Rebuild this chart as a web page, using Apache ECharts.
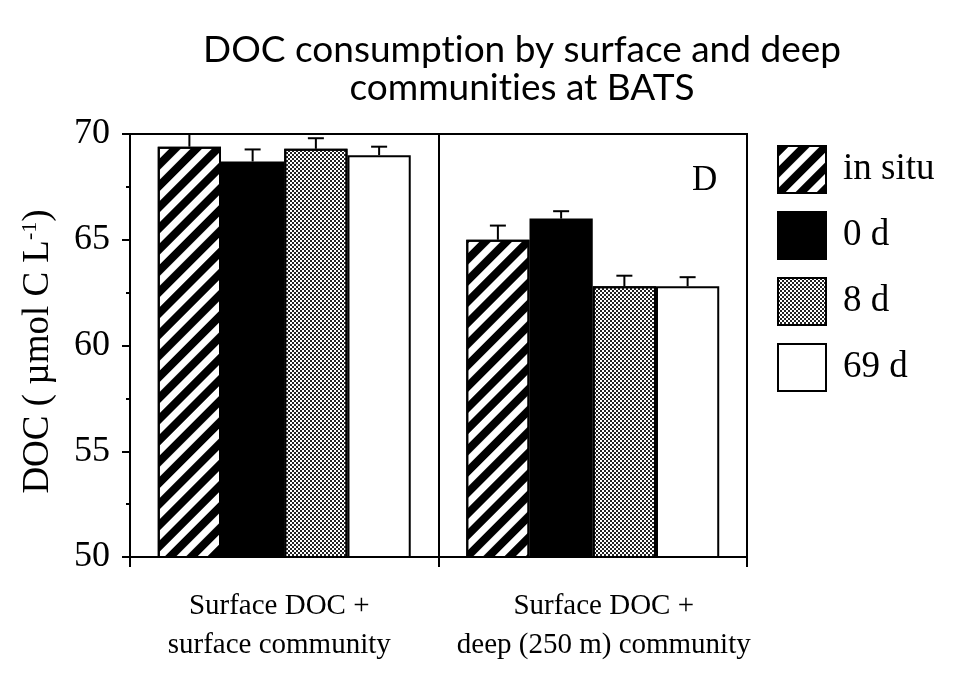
<!DOCTYPE html>
<html><head><meta charset="utf-8">
<script src="https://cdn.jsdelivr.net/npm/echarts@6/dist/echarts.min.js"></script>
<style>html,body{margin:0;padding:0;background:#fff}#c{width:955px;height:683px}</style>
</head><body><div id="c"></div>
<script>
var categories = ['Surface DOC +\nsurface community', 'Surface DOC +\ndeep (250 m) community'];
var seriesNames = ['in situ', '0 d', '8 d', '69 d'];
var inSitu = [69.4, 65.0];
var day0 = [68.7, 66.0];
var day8 = [69.3, 62.8];
var day69 = [69.0, 62.8];
var inSituErr = [0.6, 0.67];
var day0Err = [0.57, 0.35];
var day8Err = [0.5, 0.5];
var day69Err = [0.4, 0.43];
var yTicks = [50, 55, 60, 65, 70];

var values = [inSitu, day0, day8, day69];
var errs = [inSituErr, day0Err, day8Err, day69Err];
var CAT_GAP = 0.18;
var serif = 'Liberation Serif';
var labelPads = [[0, 10, 0, 0], [0, 0, 0, 22]];

var styles = [
  {color: '#fff', borderColor: '#000', borderWidth: 2,
   decal: {symbol: 'rect', symbolSize: 1, dashArrayX: [1, 0], dashArrayY: [8, 7], rotation: -Math.PI / 4, color: '#000'}},
  {color: '#000', borderColor: '#000', borderWidth: 2},
  {color: '#fff', borderColor: '#000', borderWidth: 2,
   decal: {symbol: 'rect', symbolSize: 1, dashArrayX: [[2, 2], [0, 2, 2, 0]], dashArrayY: [2, 0], color: '#222'}},
  {color: '#fff', borderColor: '#000', borderWidth: 2}
];

var series = [];
seriesNames.forEach(function (n, i) {
  series.push({name: n, type: 'bar', data: values[i], barGap: '0%', barCategoryGap: (CAT_GAP * 100) + '%',
    itemStyle: styles[i], emphasis: {disabled: true}, z: 2});
});
var errData = [];
for (var i = 0; i < 4; i++) for (var c = 0; c < categories.length; c++) errData.push([c, i, values[i][c], errs[i][c]]);
series.push({
  type: 'custom', z: 5, silent: true, data: errData, encode: {x: 0, y: 2},
  renderItem: function (params, api) {
    var cat = api.value(0), si = api.value(1), v = api.value(2), e = api.value(3);
    var band = api.size([1, 0])[0];
    var gw = band * (1 - CAT_GAP), bw = gw / 4;
    var p = api.coord([cat, v]);
    var x = p[0] - gw / 2 + bw * (si + 0.5);
    var top = api.coord([cat, v + e])[1];
    return {type: 'group', children: [
      {type: 'line', shape: {x1: x, y1: p[1], x2: x, y2: top}, style: {stroke: '#000', lineWidth: 2}},
      {type: 'line', shape: {x1: x - 8, y1: top, x2: x + 8, y2: top}, style: {stroke: '#000', lineWidth: 2}}
    ]};
  }
});

var catData = categories.map(function (c, i) { return {value: c, textStyle: {padding: labelPads[i]}}; });

var chart = echarts.init(document.getElementById('c'));
chart.setOption({
  animation: false,
  backgroundColor: '#fff',
  title: {text: '{a|DOC consumpt}{a|ion by surface and deep}\n{a|communit}{a|ies at BATS}', left: 517, top: 26, textAlign: 'center',
    textStyle: {fontFamily: 'Lato', fontWeight: 'normal', fontSize: 37, lineHeight: 38, color: '#000',
      rich: {a: {fontFamily: 'Lato', fontSize: 37, lineHeight: 38, color: '#000'}}}},
  grid: {left: 130, right: 208, top: 134, bottom: 126, show: true, borderColor: '#000', borderWidth: 2},
  legend: {orient: 'vertical', left: 777, top: 145, padding: 0, itemWidth: 48, itemHeight: 47, itemGap: 17, icon: 'rect',
    data: seriesNames, selectedMode: false,
    textStyle: {fontFamily: serif, fontSize: 37, color: '#000', padding: [0, 0, 0, 12]}},
  xAxis: {type: 'category', data: catData,
    axisLine: {lineStyle: {color: '#000', width: 2}},
    axisTick: {show: true, interval: 0, length: 10, lineStyle: {color: '#000', width: 2}},
    splitLine: {show: true, interval: 0, lineStyle: {color: '#000', width: 2}},
    axisLabel: {interval: 0, hideOverlap: false, fontFamily: serif, fontSize: 29, lineHeight: 39, color: '#000', margin: 30}},
  yAxis: {type: 'value', min: yTicks[0], max: yTicks[yTicks.length - 1], interval: 5,
    name: '{a|DOC ( µmol C L}{s|-1}{a|)}', nameLocation: 'middle', nameRotate: 90, nameGap: 73,
    nameTextStyle: {padding: [0, 12, 0, 0], rich: {a: {fontFamily: serif, fontSize: 37, color: '#000'}, s: {fontFamily: serif, fontSize: 22, color: '#000', verticalAlign: 'top', padding: [0, 0, 16, 0]}}},
    axisLine: {show: true, lineStyle: {color: '#000', width: 2}},
    axisTick: {show: true, length: 8, lineStyle: {color: '#000', width: 2}},
    minorTick: {show: true, splitNumber: 2, length: 4, lineStyle: {color: '#000', width: 2}},
    splitLine: {show: false},
    axisLabel: {fontFamily: serif, fontSize: 36, color: '#000', margin: 20}},
  graphic: [{type: 'text', left: 692, top: 163, style: {text: 'D', fontFamily: serif, fontSize: 35, fill: '#000'}}],
  series: series
});
</script></body></html>
